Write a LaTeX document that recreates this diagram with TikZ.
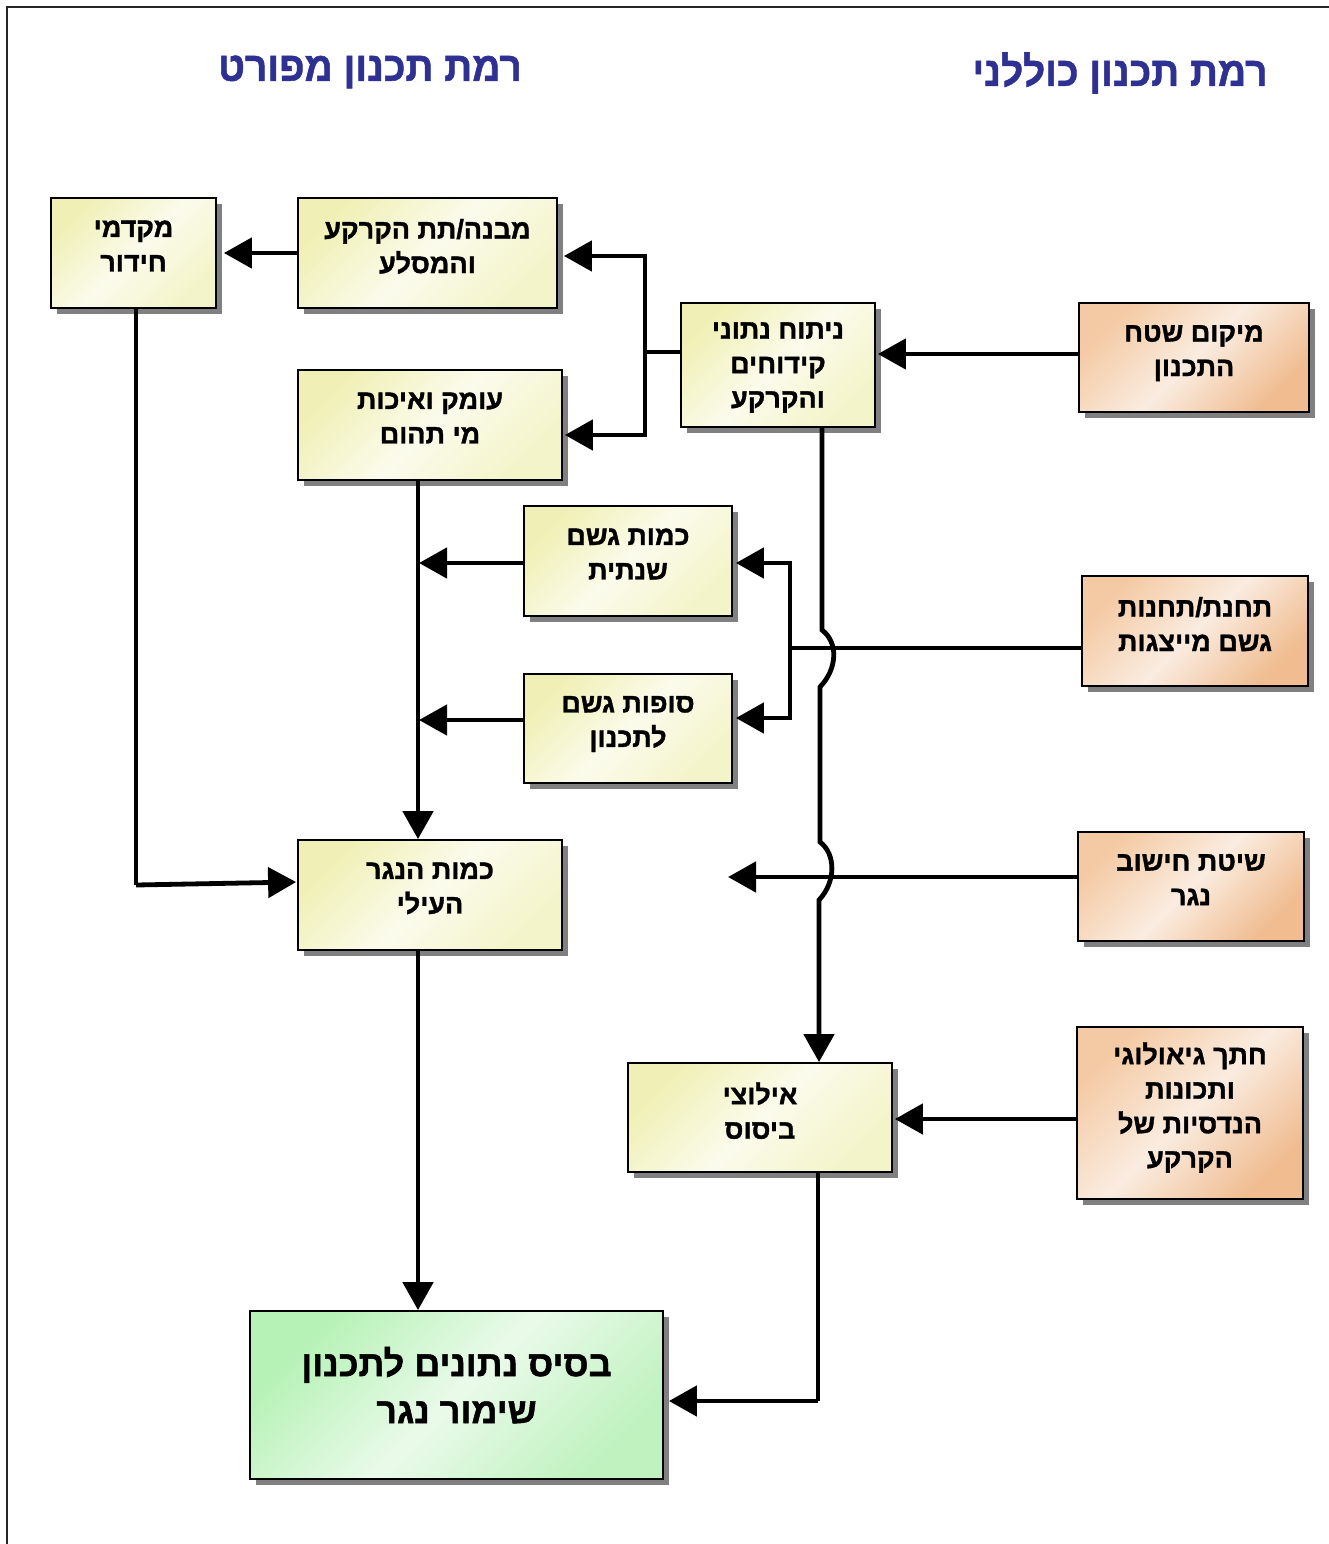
\documentclass[tikz,border=0pt]{standalone}
\usepackage{fontspec}
\setmainfont{Liberation Sans}[Script=Hebrew, BoldFeatures={FakeBold=1.3}]
\TeXXeTstate=1
\usetikzlibrary{arrows.meta,shadows}
\newcommand\heb[1]{\beginR#1\endR}
\definecolor{ttl}{RGB}{46,49,146}
\definecolor{ya}{RGB}{240,240,182}
\definecolor{yb}{RGB}{251,251,236}
\definecolor{yc}{RGB}{244,244,202}
\definecolor{oa}{RGB}{244,202,164}
\definecolor{ob}{RGB}{250,236,224}
\definecolor{oc}{RGB}{240,188,144}
\definecolor{ga}{RGB}{182,242,182}
\definecolor{gb}{RGB}{234,250,234}
\definecolor{gc}{RGB}{192,242,192}
\pgfdeclarehorizontalshading{ygrad}{100bp}{color(0bp)=(ya); color(25bp)=(ya); color(50bp)=(yb); color(75bp)=(yc); color(100bp)=(yc)}
\pgfdeclarehorizontalshading{ograd}{100bp}{color(0bp)=(oa); color(25bp)=(oa); color(50bp)=(ob); color(75bp)=(oc); color(100bp)=(oc)}
\pgfdeclarehorizontalshading{ggrad}{100bp}{color(0bp)=(ga); color(25bp)=(ga); color(50bp)=(gb); color(75bp)=(gc); color(100bp)=(gc)}
\tikzset{
  boxbase/.style={draw=black, line width=1.8pt, align=center, inner sep=2pt,
    font=\fontsize{27}{34.5}\selectfont\bfseries, text depth=14pt,
    drop shadow={shadow xshift=6pt, shadow yshift=-6pt, fill=black!50, opacity=1},
    shading angle=-45},
  ybox/.style={boxbase, shading=ygrad},
  obox/.style={boxbase, shading=ograd},
  gbox/.style={boxbase, shading=ggrad, font=\fontsize{36}{47}\selectfont\bfseries},
  conn/.style={line width=4.8pt, line join=miter},
  arr/.style={conn, -{Triangle[length=28pt,width=30pt]}},
  title/.style={text=ttl, font=\fontsize{41}{44}\selectfont\bfseries},
}
\begin{document}
\begin{tikzpicture}[x=1pt,y=-1pt]
\useasboundingbox (0,0) rectangle (1329,1544);
\draw[line width=2pt, black!85] (7,1544) -- (7,7) -- (1329,7);

\node[title] (t1) at (370,72) {\scalebox{0.95}[1]{\heb{רמת תכנון מפורט}}};
\node[title] (t2) at (1120,73) {\scalebox{0.95}[1]{\heb{רמת תכנון כוללני}}};

\node[ybox, minimum width=165pt, minimum height=110pt] (n1) at (133.5,253) {\heb{מקדמי}\\\heb{חידור}};
\node[ybox, minimum width=259pt, minimum height=110pt] (n2) at (427.5,253) {\heb{מבנה/תת הקרקע}\\\heb{והמסלע}};
\node[ybox, minimum width=264pt, minimum height=110pt] (n3) at (430,425) {\heb{עומק ואיכות}\\\heb{מי תהום}};
\node[ybox, minimum width=194pt, minimum height=124pt, text depth=0pt] (n4) at (778,365) {\heb{ניתוח נתוני}\\\heb{קידוחים}\\\heb{והקרקע}};
\node[obox, minimum width=230pt, minimum height=109pt] (n5) at (1194,357.5) {\heb{מיקום שטח}\\\heb{התכנון}};
\node[ybox, minimum width=208pt, minimum height=110pt] (n6) at (628,561) {\heb{כמות גשם}\\\heb{שנתית}};
\node[ybox, minimum width=208pt, minimum height=109pt] (n7) at (628,728.5) {\heb{סופות גשם}\\\heb{לתכנון}};
\node[obox, minimum width=226pt, minimum height=110pt] (n8) at (1195,631) {\heb{תחנת/תחנות}\\\heb{גשם מייצגות}};
\node[ybox, minimum width=264pt, minimum height=110pt] (n9) at (430,895) {\heb{כמות הנגר}\\\heb{העילי}};
\node[obox, minimum width=226pt, minimum height=109pt] (n10) at (1191,886.5) {\heb{שיטת חישוב}\\\heb{נגר}};
\node[ybox, minimum width=264pt, minimum height=109pt] (n11) at (760,1117.5) {\heb{אילוצי}\\\heb{ביסוס}};
\node[obox, minimum width=226pt, minimum height=172pt, text depth=16pt] (n12) at (1190,1113) {\heb{חתך גיאולוגי}\\\heb{ותכונות}\\\heb{הנדסיות של}\\\heb{הקרקע}};
\node[gbox, minimum width=413pt, minimum height=168pt, text depth=20pt] (n13) at (456.5,1395) {\heb{בסיס נתונים לתכנון}\\\heb{שימור נגר}};

% junctions and free ends
\coordinate (j1) at (645,352);
\coordinate (j2) at (790,648);
\coordinate (c1) at (136,885);
\coordinate (f1) at (728,877);
\coordinate (c2) at (818,1401);

% n2 -> n1
\draw[arr, shorten >=7pt] (n2.west) -- (n1.east);
% n4 -> n2, n3
\draw[conn] ([yshift=13pt]n4.west) -- (j1);
\draw[arr, shorten >=6pt] (645,437) -- (645,256) -- (n2.east |- 0,256);
\draw[arr, shorten >=2pt] (645,352) |- (n3.east |- 0,435);
% n5 -> n4
\draw[arr, shorten >=2pt] ([yshift=3.5pt]n5.west) -- ([yshift=3.5pt]n5.west -| n4.east);
% n4 -> n11 with hops
\draw[arr] ([xshift=44pt]n4.south) -- (822,630)
  .. controls (838,642) and (838,668) .. (820,687) -- (820,842)
  .. controls (836,854) and (836,882) .. (819,900) -- (n11.north -| 819,0);
% n8 -> n6, n7
\draw[conn] ([yshift=-17pt]n8.west) -- (j2);
\draw[arr, shorten >=3pt] (790,648) -- (790,563) -- (n6.east |- 0,563);
\draw[arr, shorten >=3pt] (790,648) -- (790,718) -- (n7.east |- 0,718);
% n6, n7 -> trunk
\draw[arr, shorten >=1pt] (n6.west |- 0,563) -- (418,563);
\draw[arr, shorten >=1pt] (n7.west |- 0,720) -- (418,720);
% n3 -> n9
\draw[arr] ([xshift=-12pt]n3.south) -- ([xshift=-12pt]n9.north);
% n1 -> n9
\draw[conn] ([xshift=2.5pt]n1.south) -- (c1);
\draw[arr, shorten >=1pt] (c1) -- ([yshift=13pt]n9.west);
% n10 -> free end
\draw[arr] ([yshift=9.5pt]n10.west) -- (f1);
% n12 -> n11
\draw[arr, shorten >=2pt] ([yshift=-6pt]n12.west) -- ([yshift=-6pt]n12.west -| n11.east);
% n9 -> n13
\draw[arr] ([xshift=-12pt]n9.south) -- ([xshift=-38.5pt]n13.north);
% n11 -> n13
\draw[conn] ([xshift=58pt]n11.south) -- (c2);
\draw[arr, shorten >=5pt] (c2) -- (n13.east |- c2);
\end{tikzpicture}
\end{document}
